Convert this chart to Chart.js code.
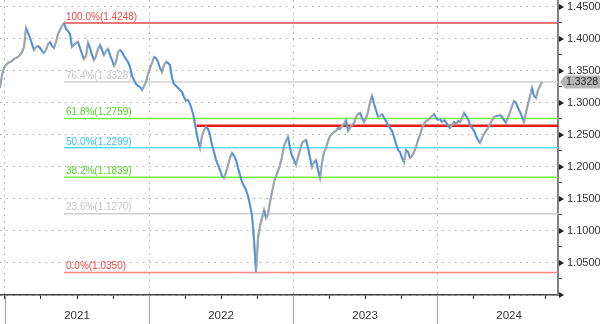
<!DOCTYPE html>
<html>
<head>
<meta charset="utf-8">
<script src="https://cdn.jsdelivr.net/npm/chart.js@4/dist/chart.umd.min.js"></script>
<style>
html, body { margin: 0; padding: 0; background: #fff; }
</style>
</head>
<body>
<canvas id="myChart" width="600" height="324"></canvas>
<script>
// price series, one close every ~5 days
var startYear = 2020.9653;
var stepYears = 1 / 72;
var closes = [
	1.3234, 1.3438, 1.3547, 1.3594, 1.3625, 1.3641, 1.3656, 1.3688, 1.3703, 1.3719,
	1.3750, 1.3797, 1.3875, 1.4172, 1.4094, 1.4016, 1.3922, 1.3828, 1.3875, 1.3891,
	1.3859, 1.3813, 1.3781, 1.3828, 1.3922, 1.3953, 1.3891, 1.3859, 1.3953, 1.4078,
	1.4141, 1.4203, 1.4248, 1.4156, 1.4125, 1.4078, 1.3875, 1.3906, 1.3938, 1.3953,
	1.3859, 1.3766, 1.3688, 1.3734, 1.3938, 1.3859, 1.3750, 1.3672, 1.3734, 1.3844,
	1.3906, 1.3828, 1.3750, 1.3813, 1.3844, 1.3750, 1.3672, 1.3578, 1.3641, 1.3797,
	1.3828, 1.3797, 1.3734, 1.3688, 1.3641, 1.3563, 1.3422, 1.3359, 1.3297, 1.3266,
	1.3250, 1.3203, 1.3266, 1.3328, 1.3453, 1.3547, 1.3625, 1.3719, 1.3703, 1.3641,
	1.3547, 1.3484, 1.3594, 1.3641, 1.3625, 1.3594, 1.3391, 1.3297, 1.3266, 1.3234,
	1.3203, 1.3172, 1.3094, 1.3031, 1.3047, 1.2984, 1.2891, 1.2766, 1.2578, 1.2422,
	1.2297, 1.2484, 1.2578, 1.2625, 1.2594, 1.2500, 1.2344, 1.2234, 1.2109, 1.2031,
	1.1953, 1.1859, 1.1828, 1.1922, 1.2031, 1.2141, 1.2219, 1.2172, 1.2109, 1.1984,
	1.1875, 1.1766, 1.1703, 1.1641, 1.1547, 1.1406, 1.1250, 1.0859, 1.0350, 1.0891,
	1.1078, 1.1203, 1.1328, 1.1203, 1.1266, 1.1453, 1.1609, 1.1766, 1.1859, 1.1938,
	1.2031, 1.2156, 1.2328, 1.2406, 1.2469, 1.2297, 1.2172, 1.2109, 1.2031, 1.2156,
	1.2266, 1.2375, 1.2406, 1.2422, 1.2297, 1.2141, 1.2000, 1.2078, 1.2109, 1.1953,
	1.1828, 1.2078, 1.2234, 1.2297, 1.2406, 1.2484, 1.2516, 1.2547, 1.2563, 1.2609,
	1.2594, 1.2641, 1.2672, 1.2734, 1.2563, 1.2609, 1.2656, 1.2688, 1.2781, 1.2828,
	1.2844, 1.2766, 1.2703, 1.2766, 1.2859, 1.3016, 1.3109, 1.2984, 1.2891, 1.2781,
	1.2797, 1.2828, 1.2766, 1.2719, 1.2656, 1.2609, 1.2563, 1.2469, 1.2359, 1.2266,
	1.2234, 1.2141, 1.2078, 1.2266, 1.2234, 1.2141, 1.2172, 1.2234, 1.2313, 1.2422,
	1.2500, 1.2609, 1.2672, 1.2719, 1.2734, 1.2766, 1.2797, 1.2828, 1.2766, 1.2734,
	1.2750, 1.2703, 1.2734, 1.2703, 1.2641, 1.2609, 1.2656, 1.2703, 1.2672, 1.2719,
	1.2703, 1.2766, 1.2844, 1.2797, 1.2750, 1.2656, 1.2609, 1.2563, 1.2484, 1.2422,
	1.2375, 1.2453, 1.2516, 1.2563, 1.2609, 1.2672, 1.2734, 1.2781, 1.2797, 1.2797,
	1.2813, 1.2781, 1.2734, 1.2688, 1.2766, 1.2859, 1.2953, 1.3031, 1.3000, 1.2922,
	1.2859, 1.2781, 1.2703, 1.2859, 1.2984, 1.3109, 1.3234, 1.3109, 1.3078, 1.3203,
	1.3266, 1.3328
];
var lastPrice = 1.3328;

// fibonacci retracement from the 2021 high to the 2022 low
var fibStart = 2021.4097;
var fibLevels = [1.4248, 1.3328, 1.2759, 1.2299, 1.1839, 1.1270, 1.0350];
var fibLabels = ['100.0%(1.4248)', '76.4%(1.3328)', '61.8%(1.2759)', '50.0%(1.2299)', '38.2%(1.1839)', '23.6%(1.1270)', '0.0%(1.0350)'];
var supportStart = 2022.33;
var supportLevel = 1.2645;

var years = [2021, 2022, 2023, 2024];
var xMin = startYear, xMax = 2024.84;
var yMin = 1.0, yMax = 1.4609;

// styles
var fibLineColors = ['#e84848', '#d0d0d0', '#77ec44', '#5cdcfc', '#77ec44', '#d0d0d0', '#ff8585'];
var fibTextColors = ['#f04444', '#c4c4c4', '#55d42a', '#33c6ec', '#55d42a', '#c4c4c4', '#f04444'];
var FONT = '"Liberation Sans", Arial, sans-serif';

var quarterTicks = [];
years.forEach(function (y) { quarterTicks.push(y, y + 0.25, y + 0.5, y + 0.75); });
var yTickValues = [];
for (var k = 0; k <= 18; k++) yTickValues.push(+(yMin + k * 0.025).toFixed(3));

function isMajorY(v) { return Math.abs(v * 20 - Math.round(v * 20)) < 1e-6; }
function isYear(v) { return Math.abs(v - Math.round(v)) < 1e-6; }

var pricePoints = closes.map(function (c, i) { return { x: startYear + i * stepYears, y: c }; });
var datasets = [{
	// thin grey shadow under the line
	data: pricePoints,
	borderColor: '#a8a8a8',
	borderWidth: 2.2,
	pointRadius: 0,
	order: 1
}, {
	label: 'GBPUSD',
	data: pricePoints,
	borderWidth: 1.5,
	pointRadius: 0,
	order: 0,
	segment: {
		borderColor: function (c) { return c.p1.parsed.y > c.p0.parsed.y ? '#9aa6b4' : '#3d94ee'; }
	}
}];
fibLevels.forEach(function (v, i) {
	datasets.push({
		data: [{ x: fibStart, y: v }, { x: xMax, y: v }],
		borderColor: fibLineColors[i],
		borderWidth: 1.5,
		pointRadius: 0,
		order: 3
	});
});
datasets.push({
	data: [{ x: supportStart, y: supportLevel }, { x: xMax, y: supportLevel }],
	borderColor: '#ec1c1c',
	borderWidth: 2.5,
	pointRadius: 0,
	order: 2
});

var overlay = {
	id: 'overlay',
	beforeDatasetsDraw: function (chart) {
		var ctx = chart.ctx, xs = chart.scales.x, ys = chart.scales.y;
		ctx.save();
		ctx.font = '10px ' + FONT;
		ctx.textBaseline = 'bottom';
		fibLevels.forEach(function (v, i) {
			ctx.fillStyle = fibTextColors[i];
			ctx.fillText(fibLabels[i], xs.getPixelForValue(fibStart) + 2, ys.getPixelForValue(v) - 1);
		});
		ctx.restore();
	},
	afterDraw: function (chart) {
		var ctx = chart.ctx, xs = chart.scales.x, ys = chart.scales.y, area = chart.chartArea;
		ctx.save();
		// year separators under the axis
		ctx.strokeStyle = '#a0a0a0';
		ctx.lineWidth = 1;
		years.forEach(function (y) {
			var px = Math.round(xs.getPixelForValue(y)) + 0.5;
			ctx.beginPath();
			ctx.moveTo(px, area.bottom);
			ctx.lineTo(px, chart.height);
			ctx.stroke();
		});
		// arrow marks on the price axis
		ctx.fillStyle = '#222';
		yTickValues.forEach(function (v) {
			if (!isMajorY(v)) return;
			var py = ys.getPixelForValue(v);
			ctx.beginPath();
			ctx.moveTo(area.right + 1, py - 3);
			ctx.lineTo(area.right + 6, py);
			ctx.lineTo(area.right + 1, py + 3);
			ctx.closePath();
			ctx.fill();
		});
		// last price tag
		var ty = ys.getPixelForValue(lastPrice);
		ctx.fillStyle = '#b6b6b6';
		ctx.beginPath();
		ctx.moveTo(area.right + 2, ty);
		ctx.lineTo(area.right + 7, ty - 6.5);
		ctx.lineTo(chart.width, ty - 6.5);
		ctx.lineTo(chart.width, ty + 6.5);
		ctx.lineTo(area.right + 7, ty + 6.5);
		ctx.closePath();
		ctx.fill();
		ctx.fillStyle = '#222';
		ctx.font = '10.5px ' + FONT;
		ctx.textBaseline = 'middle';
		ctx.textAlign = 'left';
		ctx.fillText(lastPrice.toFixed(4), area.right + 8, ty + 0.5);
		ctx.restore();
	}
};

var ctx = document.getElementById('myChart').getContext('2d');
var myChart = new Chart(ctx, {
	type: 'line',
	data: { datasets: datasets },
	plugins: [overlay],
	options: {
		responsive: false,
		animation: false,
		layout: { padding: 0 },
		plugins: {
			legend: { display: false },
			tooltip: { enabled: false }
		},
		scales: {
			x: {
				type: 'linear',
				min: xMin,
				max: xMax,
				afterBuildTicks: function (scale) {
					scale.ticks = quarterTicks.map(function (v) { return { value: v }; });
				},
				afterFit: function (scale) {
					scale.height = 29;
					scale.paddingLeft = 0;
					scale.paddingRight = 0;
				},
				grid: {
					color: function (c) { return c.tick && isYear(c.tick.value) ? '#a8a8a8' : 'rgba(0,0,0,0)'; },
					tickColor: '#333',
					tickLength: 4
				},
				border: { color: '#444', width: 1.5, dash: [1.5, 5] },
				ticks: {
					autoSkip: false,
					maxRotation: 0,
					padding: 10,
					color: '#333',
					font: { family: FONT, size: 11.5 },
					callback: function (v) {
						return Math.abs(v % 1 - 0.5) < 1e-6 ? String(Math.floor(v)) : '';
					}
				}
			},
			y: {
				position: 'right',
				min: yMin,
				max: yMax,
				afterBuildTicks: function (scale) {
					scale.ticks = yTickValues.map(function (v) { return { value: v }; });
				},
				afterFit: function (scale) {
					scale.width = 42;
					scale.paddingTop = 0;
					scale.paddingBottom = 0;
				},
				grid: {
					color: function (c) { return c.tick && isMajorY(c.tick.value) ? '#a8a8a8' : 'rgba(0,0,0,0)'; },
					tickColor: '#444',
					tickLength: 4
				},
				border: { color: '#808080', width: 2, dash: [1.5, 5] },
				ticks: {
					padding: 5,
					color: '#333',
					font: { family: FONT, size: 11 },
					callback: function (v) {
						return isMajorY(v) && v > 1.001 ? v.toFixed(4) : '';
					}
				}
			}
		}
	}
});
</script>
</body>
</html>
